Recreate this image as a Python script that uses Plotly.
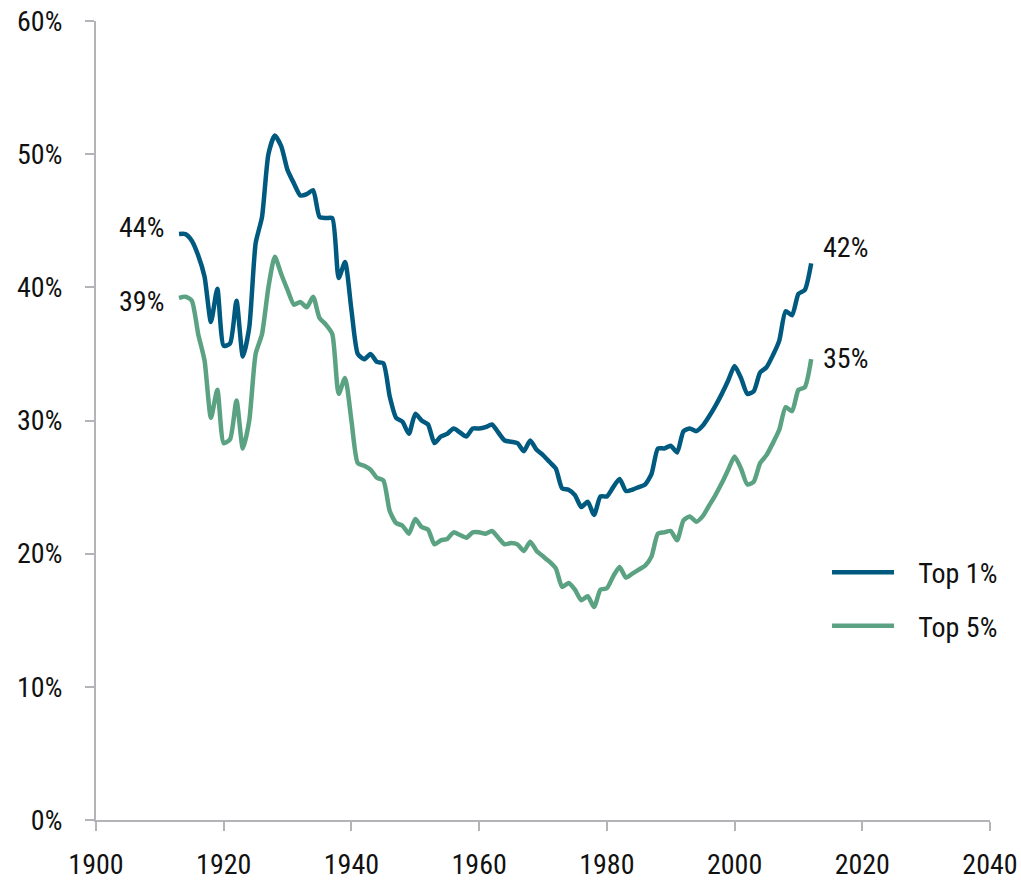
import plotly.graph_objects as go

years = list(range(1913, 2013))

top1 = [
    44.0, 44.0, 43.5, 42.4, 40.8, 37.4, 39.9, 35.6, 35.8, 39.0,   # 1913-1922
    34.8, 37.0, 43.3, 45.3, 50.0, 51.4, 50.6, 48.8, 47.8, 46.9,   # 1923-1932
    47.0, 47.3, 45.3, 45.2, 45.2, 40.7, 41.9, 38.3, 35.0, 34.6,   # 1933-1942
    35.0, 34.4, 34.3, 31.8, 30.2, 29.9, 29.0, 30.5, 30.0, 29.7,   # 1943-1952
    28.3, 28.8, 29.0, 29.4, 29.1, 28.8, 29.4, 29.4, 29.5, 29.7,   # 1953-1962
    29.1, 28.5, 28.4, 28.3, 27.7, 28.5, 27.8, 27.4, 26.9, 26.4,   # 1963-1972
    24.9, 24.8, 24.4, 23.5, 23.9, 22.9, 24.3, 24.3, 25.0, 25.6,   # 1973-1982
    24.7, 24.8, 25.0, 25.2, 26.0, 27.9, 27.9, 28.1, 27.6, 29.2,   # 1983-1992
    29.4, 29.2, 29.6, 30.3, 31.1, 32.0, 33.0, 34.1, 33.2, 32.0,   # 1993-2002
    32.2, 33.6, 34.0, 34.9, 36.0, 38.2, 37.9, 39.5, 39.8, 41.8,   # 2003-2012
]

top5 = [
    39.2, 39.3, 39.0, 36.5, 34.5, 30.2, 32.3, 28.3, 28.6, 31.5,   # 1913-1922
    27.9, 30.0, 35.0, 36.5, 40.0, 42.3, 41.0, 39.8, 38.7, 38.9,   # 1923-1932
    38.5, 39.3, 37.7, 37.2, 36.5, 32.0, 33.2, 30.0, 26.8, 26.6,   # 1933-1942
    26.3, 25.7, 25.5, 23.2, 22.3, 22.1, 21.5, 22.6, 22.0, 21.8,   # 1943-1952
    20.7, 21.0, 21.1, 21.6, 21.4, 21.2, 21.6, 21.6, 21.5, 21.7,   # 1953-1962
    21.2, 20.7, 20.8, 20.7, 20.2, 20.9, 20.2, 19.8, 19.4, 18.9,   # 1963-1972
    17.5, 17.8, 17.3, 16.5, 16.8, 16.0, 17.3, 17.4, 18.3, 19.0,   # 1973-1982
    18.2, 18.5, 18.8, 19.1, 19.8, 21.5, 21.6, 21.7, 21.0, 22.5,   # 1983-1992
    22.8, 22.4, 22.8, 23.6, 24.4, 25.3, 26.3, 27.3, 26.4, 25.2,   # 1993-2002
    25.4, 26.8, 27.4, 28.3, 29.3, 31.0, 30.7, 32.3, 32.5, 34.6,   # 2003-2012
]

series_names = ["Top 1%", "Top 5%"]
colors = ["#005A80", "#5BA283"]

x_ticks = [1900, 1920, 1940, 1960, 1980, 2000, 2020, 2040]
y_ticks = [0, 10, 20, 30, 40, 50, 60]
y_tick_labels = [f"{v}%" for v in y_ticks]

FONT = "Liberation Sans Narrow, Arial Narrow, Roboto Condensed, DejaVu Sans Condensed, sans-serif"
AXIS_COLOR = "#B3B3B8"
TEXT_COLOR = "#111111"
NBSP = "\u00a0"

fig = go.Figure()
for name, vals, col in zip(series_names, [top1, top5], colors):
    fig.add_trace(go.Scatter(
        x=years, y=vals, name=NBSP * 3 + name, mode="lines",
        line=dict(color=col, width=4.5, shape="spline", smoothing=0.6),
        legendgroup=name,
        hoverinfo="skip",
    ))

# end labels (first and last value of each series)
start_shifts = [7, -4]
end_shifts = [16, 1]
annotations = []
for vals, ys, ye in zip([top1, top5], start_shifts, end_shifts):
    annotations.append(dict(
        x=years[0], y=vals[0], xref="x", yref="y",
        text=f"{round(vals[0])}%", showarrow=False,
        xanchor="right", yanchor="middle", xshift=-13, yshift=ys,
        font=dict(family=FONT, size=28, color=TEXT_COLOR),
    ))
    annotations.append(dict(
        x=years[-1], y=vals[-1], xref="x", yref="y",
        text=f"{round(vals[-1])}%", showarrow=False,
        xanchor="left", yanchor="middle", xshift=10, yshift=ye,
        font=dict(family=FONT, size=28, color=TEXT_COLOR),
    ))

fig.update_layout(
    width=1021, height=880,
    margin=dict(l=96, r=31, t=21, b=60),
    paper_bgcolor="white", plot_bgcolor="white",
    font=dict(family=FONT, size=28, color=TEXT_COLOR),
    showlegend=True,
    legend=dict(
        x=0.8177, y=0.341, xanchor="left", yanchor="top",
        font=dict(family=FONT, size=28, color=TEXT_COLOR),
        bgcolor="rgba(0,0,0,0)",
        tracegroupgap=14,
        itemwidth=62,
    ),
    annotations=annotations,
)

fig.update_xaxes(
    range=[1900, 2040], tickvals=x_ticks, ticktext=[str(t) for t in x_ticks],
    showgrid=False, zeroline=False, automargin=False,
    showline=True, linecolor=AXIS_COLOR, linewidth=2,
    ticks="outside", ticklen=9, tickwidth=2, tickcolor=AXIS_COLOR,
    ticklabelstandoff=9, ticklabeloverflow="allow",
    tickfont=dict(family=FONT, size=28, color=TEXT_COLOR),
    fixedrange=True,
)
fig.update_yaxes(
    range=[0, 60], tickvals=y_ticks, ticktext=y_tick_labels,
    showgrid=False, zeroline=False, automargin=False,
    showline=True, linecolor=AXIS_COLOR, linewidth=2,
    ticks="outside", ticklen=9, tickwidth=2, tickcolor=AXIS_COLOR,
    ticklabelstandoff=17, ticklabeloverflow="allow",
    tickfont=dict(family=FONT, size=28, color=TEXT_COLOR),
    fixedrange=True,
)

# remove the browser's default 8px body margin so the figure fills the window exactly
fig.write_html(
    "out.html",
    config={"displayModeBar": False, "staticPlot": True},
    post_script="document.body.style.margin='0';document.body.style.overflow='hidden';",
)
